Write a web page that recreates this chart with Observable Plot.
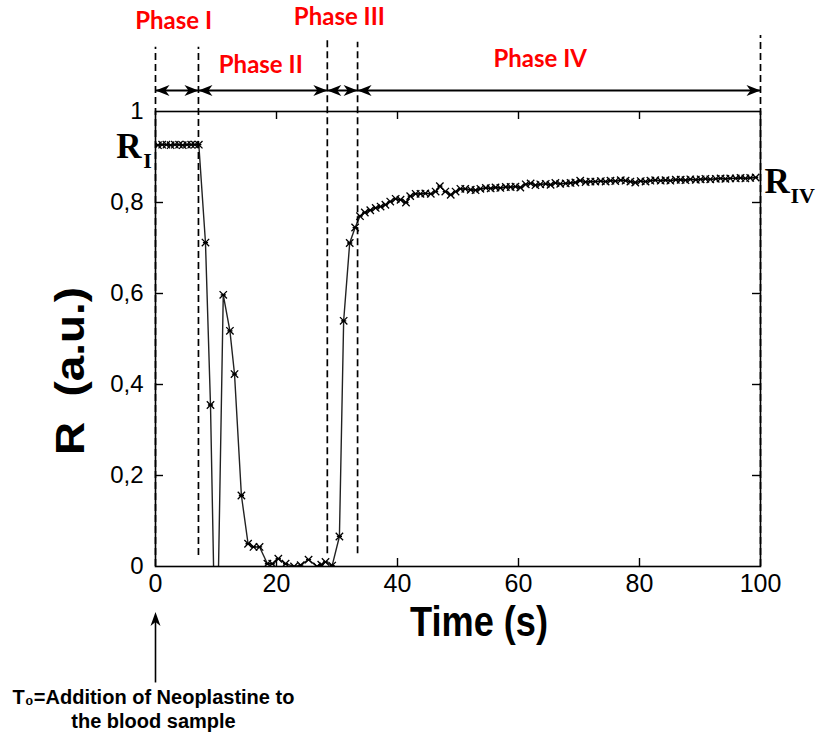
<!DOCTYPE html>
<html>
<head>
<meta charset="utf-8">
<script src="https://cdn.jsdelivr.net/npm/d3@7"></script>
<script src="https://cdn.jsdelivr.net/npm/@observablehq/plot@0.6"></script>
<style>
  html, body { margin: 0; padding: 0; background: #fff; }
  #chart { width: 816px; height: 732px; }
</style>
</head>
<body>
<div id="chart"></div>
<script>
// ---------- data ----------
const time = [
  0.4, 1.1, 1.8, 2.5, 3.2, 3.9, 4.5, 5.2, 5.9, 6.5, 7.16,
  8.26, 9.09, 10.03, 11.2, 12.3, 13.06, 14.2, 15.3, 16.2, 17.2, 18.5, 19.3, 20.3, 21.5,
  22.9, 24.0, 25.3, 26.7, 27.4, 28.1, 29.2, 30.4, 31.1, 32.1,
  33.0, 33.8, 34.6, 35.5, 36.4, 37.2, 38.0, 38.8, 39.7, 40.5, 41.4, 42.1, 43.0, 43.8,
  44.6, 45.5, 46.3, 47.0, 47.9, 48.8, 49.6, 50.4, 51.2, 52.1, 52.9, 53.7, 54.6,
  55.4, 56.2, 57.0, 57.9, 58.7, 59.5, 60.3, 61.2, 62.0, 62.8, 63.6, 64.5, 65.3, 66.1,
  66.9, 67.8, 68.6, 69.4, 70.2, 71.1, 71.9, 72.7, 73.6, 74.4, 75.2, 76.0, 76.9, 77.7,
  78.5, 79.3, 80.2, 81.0, 81.8, 82.6, 83.5, 84.3, 85.1, 86.0, 86.8, 87.6, 88.4, 89.3,
  90.1, 90.9, 91.7, 92.6, 93.4, 94.2, 95.0, 95.9, 96.7, 97.5, 98.3, 99.2
];
const R = [
  0.926, 0.927, 0.927, 0.926, 0.927, 0.927, 0.926, 0.927, 0.927, 0.927, 0.927,
  0.712, 0.355, -0.30, 0.597, 0.518, 0.423, 0.156, 0.050, 0.043, 0.043, 0.006, 0.006, 0.017, 0.006,
  0.000, 0.003, 0.015, 0.000, 0.004, 0.010, 0.002, 0.066, 0.540, 0.711,
  0.745, 0.770, 0.778, 0.783, 0.788, 0.791, 0.795, 0.802, 0.808, 0.806, 0.800, 0.814, 0.819, 0.819,
  0.820, 0.819, 0.824, 0.836, 0.824, 0.817, 0.824, 0.830, 0.830, 0.828, 0.827, 0.830, 0.832,
  0.831, 0.833, 0.832, 0.834, 0.834, 0.835, 0.833, 0.840, 0.842, 0.838, 0.840, 0.841, 0.839, 0.843,
  0.841, 0.842, 0.843, 0.844, 0.848, 0.845, 0.846, 0.846, 0.847, 0.846, 0.848, 0.847, 0.849, 0.848,
  0.846, 0.844, 0.847, 0.846, 0.848, 0.849, 0.848, 0.849, 0.848, 0.850, 0.850, 0.849, 0.851, 0.850,
  0.851, 0.852, 0.851, 0.852, 0.853, 0.852, 0.853, 0.853, 0.854, 0.853, 0.854, 0.855
];
const phaseBounds = [0, 7.1, 28.4, 33.4, 100];
const phaseNames = ["Phase I", "Phase II", "Phase III", "Phase IV"];
const phaseLabelX = [3.0, 17.4, 30.4, 63.6];
const phaseLabelY = [1.198, 1.101, 1.207, 1.115];
const dashTop = [1.141, 1.141, 1.159, 1.152, 1.167];
const dashBottom = [0, 0.024, 0.028, 0.028, 0];
const xTicks = [0, 20, 40, 60, 80, 100];
const yTicks = [0, 0.2, 0.4, 0.6, 0.8, 1];
const yTickLabels = ["0", "0,2", "0,4", "0,6", "0,8", "1"];
const xLabel = "Time (s)";
const yLabel = "R\u00a0\u00a0(a.u.)";
const noteText = "T₀=Addition of Neoplastine to\nthe blood sample";

// ---------- derived tables ----------
const data = time.map((t, i) => ({t, r: R[i]}));
const segments = phaseBounds.slice(0, -1).map((a, i) => ({a, b: phaseBounds[i + 1]}));
const bounds = phaseBounds.map((x, i) => ({x, top: dashTop[i], bottom: dashBottom[i]}));
const last = data[data.length - 1];
const RI = data[10];

// ---------- custom symbols ----------
const asterisk = {
  draw(ctx, size) {
    const r = Math.sqrt(size / Math.PI);
    ctx.moveTo(-r, -r); ctx.lineTo(r, r);
    ctx.moveTo(-r, r); ctx.lineTo(r, -r);
    ctx.moveTo(-r * 0.7, 0); ctx.lineTo(r * 0.7, 0);
  }
};
const headRight = {draw(ctx) { ctx.moveTo(0, 0); ctx.lineTo(-14, -5.5); ctx.lineTo(-10, 0); ctx.lineTo(-14, 5.5); ctx.closePath(); }};
const headLeft  = {draw(ctx) { ctx.moveTo(0, 0); ctx.lineTo(14, -5.5); ctx.lineTo(10, 0); ctx.lineTo(14, 5.5); ctx.closePath(); }};
const headUp    = {draw(ctx) { ctx.moveTo(0, 0); ctx.lineTo(-5, 14); ctx.lineTo(0, 10); ctx.lineTo(5, 14); ctx.closePath(); }};

const sans = "'Liberation Sans', Arial, sans-serif";
const serif = "'Liberation Serif', 'Times New Roman', serif";
const PH = 732 - 111 - 166; // frame height
const PW = 816 - 155 - 56;  // frame width

const chart = Plot.plot({
  width: 816,
  height: 732,
  marginLeft: 155,
  marginRight: 56,
  marginTop: 111,
  marginBottom: 166,
  x: {domain: [0, 100], axis: null},
  y: {domain: [0, 1], axis: null},
  style: {background: "#fff", color: "#000", fontFamily: sans, overflow: "visible"},
  marks: [
    // data
    Plot.line(data, {x: "t", y: "r", stroke: "#222", strokeWidth: 1.4, clip: true}),
    Plot.dot(data, {x: "t", y: "r", symbol: asterisk, r: 3.7, stroke: "#000", fill: "none", strokeWidth: 1.3, clip: true}),
    // frame + inward ticks
    Plot.frame({stroke: "#000", strokeWidth: 1.6}),
    Plot.tickX(xTicks.slice(1, -1), {x: d => d, insetTop: PH - 8, stroke: "#000", strokeWidth: 1.4}),
    Plot.tickX(xTicks.slice(1, -1), {x: d => d, insetBottom: PH - 8, stroke: "#000", strokeWidth: 1.4}),
    Plot.tickY(yTicks.slice(1, -1), {y: d => d, insetRight: PW - 8, stroke: "#000", strokeWidth: 1.4}),
    Plot.tickY(yTicks.slice(1, -1), {y: d => d, insetLeft: PW - 8, stroke: "#000", strokeWidth: 1.4}),
    // axis labels
    Plot.axisX(xTicks, {anchor: "bottom", tickSize: 0, tickPadding: 8, fontSize: 25, label: null, fontFamily: sans}),
    Plot.axisY(yTicks, {anchor: "left", tickSize: 0, tickPadding: 12, fontSize: 24, label: null, fontFamily: sans,
      tickFormat: d => yTickLabels[yTicks.indexOf(d)]}),
    Plot.text([xLabel], {frameAnchor: "bottom", textAnchor: "middle", lineAnchor: "middle", dx: 21, dy: 56,
      fontSize: 42, fontWeight: "bold", fontFamily: sans}),
    Plot.text([yLabel], {frameAnchor: "left", textAnchor: "middle", lineAnchor: "middle", dx: -84, dy: 32, rotate: -90,
      fontSize: 40, fontWeight: "bold", fontFamily: sans}),
    // phase boundaries (dashed)
    Plot.ruleX(bounds, {x: "x", y1: "bottom", y2: "top", stroke: "#000", strokeWidth: 1.7, strokeDasharray: "7,4"}),
    // phase arrows
    Plot.ruleY(segments, {y: 1, dy: -21, x1: "a", x2: "b", stroke: "#000", strokeWidth: 2}),
    Plot.dot(segments, {x: "b", y: 1, dy: -21, symbol: headRight, fill: "#000", stroke: "none"}),
    Plot.dot(segments, {x: "a", y: 1, dy: -21, symbol: headLeft, fill: "#000", stroke: "none"}),
    Plot.text(phaseNames, {x: (d, i) => phaseLabelX[i], y: (d, i) => phaseLabelY[i], fill: "#ff0000",
      fontSize: 24, fontWeight: "bold", fontFamily: "Lato, 'Open Sans', sans-serif"}),
    // R_I and R_IV labels
    Plot.text([RI], {x: 0, y: "r", text: () => "R", dx: -14, dy: 2, textAnchor: "end", fontSize: 35, fontWeight: "bold", fontFamily: serif}),
    Plot.text([RI], {x: 0, y: "r", text: () => "I", dx: -8, dy: 16, fontSize: 22, fontWeight: "bold", fontFamily: serif}),
    Plot.text([last], {x: 100, y: "r", text: () => "R", dx: 4, dy: 4, textAnchor: "start", fontSize: 35, fontWeight: "bold", fontFamily: serif}),
    Plot.text([last], {x: 100, y: "r", text: () => "IV", dx: 30, dy: 18, textAnchor: "start", fontSize: 22, fontWeight: "bold", fontFamily: serif}),
    // T0 annotation
    Plot.ruleX([0], {x: d => d, y1: -0.256, y2: -0.115, stroke: "#000", strokeWidth: 1.6}),
    Plot.dot([0], {x: d => d, y: -0.100, symbol: headUp, fill: "#000", stroke: "none"}),
    Plot.text([noteText], {x: 0, y: 0, dx: -2, dy: 142, lineHeight: 1.2,
      fontSize: 20, fontWeight: "bold", fontFamily: sans})
  ]
});

// stretch the two axis titles to the reference's condensed proportions
d3.select(chart).selectAll("text").each(function () {
  const s = this.textContent;
  if (s === xLabel) d3.select(this).attr("textLength", 138).attr("lengthAdjust", "spacingAndGlyphs");
  if (s === yLabel) d3.select(this).attr("textLength", 168).attr("lengthAdjust", "spacingAndGlyphs");
});
document.getElementById("chart").appendChild(chart);
</script>
</body>
</html>
